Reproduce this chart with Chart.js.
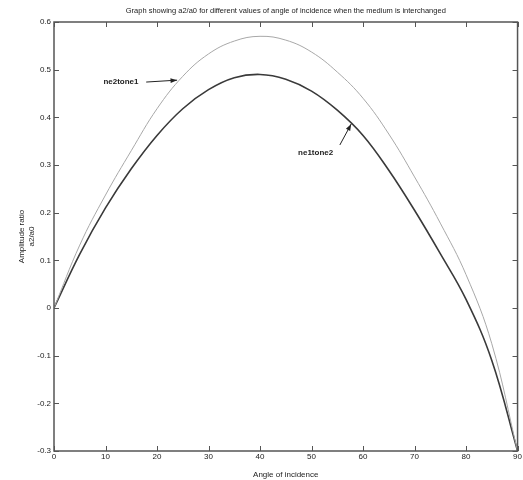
<!DOCTYPE html>
<html>
<head>
<meta charset="utf-8">
<script src="https://cdn.jsdelivr.net/npm/chart.js@4.4.1/dist/chart.umd.min.js"></script>
<style>
  html, body { margin: 0; padding: 0; background: #fff; }
  #wrap { width: 523px; height: 480px; }
</style>
</head>
<body>
<div id="wrap"><canvas id="ratioChart" width="523" height="480"></canvas></div>
<script>
//
// Data
var angles = [0, 5, 10, 15, 20, 25, 30, 35, 40, 45, 50, 55, 60, 65, 70, 75, 80, 85, 90];
var ne2tone1 = [0, 0.132, 0.237, 0.33, 0.418, 0.486, 0.533, 0.56, 0.57, 0.562, 0.537, 0.495, 0.44, 0.365, 0.275, 0.178, 0.07, -0.075, -0.3];
var ne1tone2 = [0, 0.113, 0.21, 0.292, 0.362, 0.418, 0.458, 0.483, 0.49, 0.48, 0.455, 0.415, 0.362, 0.289, 0.205, 0.114, 0.018, -0.11, -0.3];
var xTicks = [0, 10, 20, 30, 40, 50, 60, 70, 80, 90];
var yTicks = [-0.3, -0.2, -0.1, 0, 0.1, 0.2, 0.3, 0.4, 0.5, 0.6];

// labels with arrows: [text, text x, text y, tail x, tail y, tip x, tip y] in data units
var notes = [
    ['ne2tone1', 13.0, 0.474, 17.9, 0.474, 23.9, 0.478],
    ['ne1tone2', 50.8, 0.325, 55.5, 0.342, 57.7, 0.386]
];

var FONT = '"Liberation Sans", Arial, sans-serif';

function pairs(values) {
    return angles.map(function(a, i) { return { x: a, y: values[i] }; });
}

//
// Box, inward ticks and arrow labels
var matlabBox = {
    id: 'matlabBox',
    afterDatasetsDraw: function(chart) {
        var ctx = chart.ctx;
        var area = chart.chartArea;
        var xs = chart.scales.x;
        var ys = chart.scales.y;
        ctx.save();
        ctx.strokeStyle = '#555';
        ctx.lineWidth = 1.5;
        ctx.strokeRect(area.left, area.top, area.right - area.left, area.bottom - area.top);
        ctx.lineWidth = 1;
        ctx.beginPath();
        xTicks.forEach(function(t) {
            var px = Math.round(xs.getPixelForValue(t)) + 0.5;
            ctx.moveTo(px, area.bottom); ctx.lineTo(px, area.bottom - 5);
            ctx.moveTo(px, area.top); ctx.lineTo(px, area.top + 5);
        });
        yTicks.forEach(function(t) {
            var py = Math.round(ys.getPixelForValue(t)) + 0.5;
            ctx.moveTo(area.left, py); ctx.lineTo(area.left + 5, py);
            ctx.moveTo(area.right, py); ctx.lineTo(area.right - 5, py);
        });
        ctx.stroke();

        ctx.fillStyle = '#222';
        ctx.strokeStyle = '#222';
        ctx.font = 'bold 8px ' + FONT;
        ctx.textAlign = 'center';
        ctx.textBaseline = 'middle';
        notes.forEach(function(n) {
            ctx.fillText(n[0], xs.getPixelForValue(n[1]), ys.getPixelForValue(n[2]));
            var x1 = xs.getPixelForValue(n[3]), y1 = ys.getPixelForValue(n[4]);
            var x2 = xs.getPixelForValue(n[5]), y2 = ys.getPixelForValue(n[6]);
            ctx.beginPath();
            ctx.moveTo(x1, y1); ctx.lineTo(x2, y2);
            ctx.stroke();
            var ang = Math.atan2(y2 - y1, x2 - x1);
            ctx.beginPath();
            ctx.moveTo(x2, y2);
            ctx.lineTo(x2 - 7 * Math.cos(ang - 0.35), y2 - 7 * Math.sin(ang - 0.35));
            ctx.lineTo(x2 - 7 * Math.cos(ang + 0.35), y2 - 7 * Math.sin(ang + 0.35));
            ctx.closePath();
            ctx.fill();
        });
        ctx.restore();
    }
};

var ctx = document.getElementById('ratioChart').getContext('2d');
new Chart(ctx, {
    type: 'line',
    data: {
        datasets: [{
            label: 'ne2tone1',
            data: pairs(ne2tone1),
            borderColor: '#a8a8a8',
            borderWidth: 1,
            pointRadius: 0,
            tension: 0.4,
            fill: false
        }, {
            label: 'ne1tone2',
            data: pairs(ne1tone2),
            borderColor: '#3a3a3a',
            borderWidth: 1.6,
            pointRadius: 0,
            tension: 0.4,
            fill: false
        }]
    },
    options: {
        responsive: false,
        animation: false,
        layout: { padding: { left: 0, right: 5, top: 0, bottom: 0 } },
        plugins: {
            legend: { display: false },
            tooltip: { enabled: false },
            title: {
                display: true,
                fullSize: false,
                text: 'Graph showing a2/a0 for different values of angle of incidence when the medium is interchanged',
                color: '#222',
                font: { family: FONT, size: 7.5, weight: 'normal' },
                padding: { top: 6, bottom: 7 }
            }
        },
        scales: {
            x: {
                type: 'linear',
                min: 0,
                max: 90,
                afterFit: function(s) { s.height = 29; },
                afterBuildTicks: function(s) { s.ticks = xTicks.map(function(v) { return { value: v }; }); },
                grid: { display: false, drawTicks: false },
                border: { display: false },
                ticks: { color: '#222', padding: 1, maxRotation: 0, font: { family: FONT, size: 8 } },
                title: {
                    display: true,
                    text: 'Angle of incidence',
                    color: '#222',
                    padding: { top: 0, bottom: 0 },
                    font: { family: FONT, size: 8 }
                }
            },
            y: {
                min: -0.3,
                max: 0.6,
                afterFit: function(s) { s.width = 54; },
                afterBuildTicks: function(s) { s.ticks = yTicks.map(function(v) { return { value: v }; }); },
                grid: { display: false, drawTicks: false },
                border: { display: false },
                ticks: {
                    color: '#222',
                    padding: 3,
                    font: { family: FONT, size: 8 },
                    callback: function(v) { return String(Math.round(v * 10) / 10); }
                },
                title: {
                    display: true,
                    text: ['Amplitude ratio', 'a2/a0'],
                    color: '#222',
                    padding: { top: 17, bottom: 0 },
                    font: { family: FONT, size: 8 }
                }
            }
        }
    },
    plugins: [matlabBox]
});
</script>
</body>
</html>
